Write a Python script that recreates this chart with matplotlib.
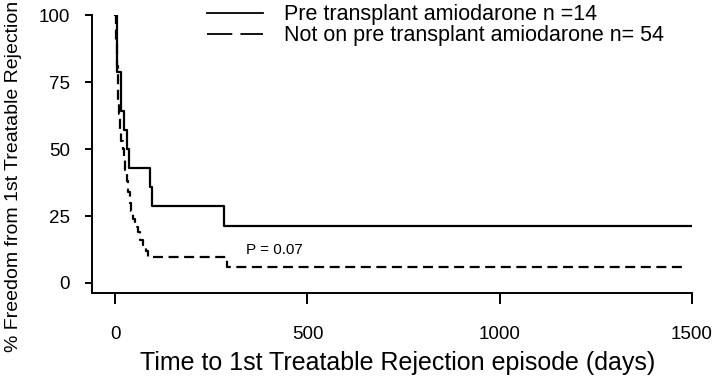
import numpy as np
import matplotlib
matplotlib.use("Agg")
from matplotlib import pyplot as plt
from matplotlib.lines import Line2D

plt.rcParams['font.family'] = ['Liberation Sans', 'DejaVu Sans']

# Kaplan-Meier steps
amio_days = [0, 5, 16, 23, 31, 36, 91, 96, 283, 1500]
amio_surv = [100, 78.6, 64.3, 57.1, 50.0, 42.9, 35.7, 28.6, 21.4, 21.4]

no_amio_days = [0, 2, 4, 6, 8, 10, 13, 16, 19, 22, 26, 30, 34, 38, 42, 47, 52,
                58, 65, 72, 80, 86, 291, 1480]
no_amio_surv = [100, 90, 81, 74, 68, 63, 57, 53, 50, 46, 42, 38, 34, 30, 27, 24,
                21, 19, 16, 14, 12, 9.7, 5.9, 5.9]

labels = ['Pre transplant amiodarone n =14', 'Not on pre transplant amiodarone n= 54']
xticks = [0, 500, 1000, 1500]
yticks = [0, 25, 50, 75, 100]

fig = plt.figure(figsize=(7.2, 3.76), dpi=100)
ax = fig.add_axes([0.128, 0.221, 0.833, 0.739])

ax.step(amio_days, amio_surv, where='post', color='black', lw=1.6)
ax.step(no_amio_days, no_amio_surv, where='post', color='black', lw=1.6,
        linestyle=(0, (4.5, 2.5)))

ax.set_xlim(-60, 1500)
ax.set_ylim(-3.7, 100)
ax.spines['top'].set_visible(False)
ax.spines['right'].set_visible(False)
ax.spines['left'].set_linewidth(1.4)
ax.spines['bottom'].set_linewidth(1.4)
ax.set_xticks(xticks)
ax.set_yticks(yticks)
ax.tick_params(axis='x', direction='out', length=8, width=1.4, labelsize=13.5, pad=16)
ax.tick_params(axis='y', direction='out', length=5, width=1.4, labelsize=13.5, pad=11)

fig.text(398 / 720, 1 - 363 / 376, 'Time to 1st Treatable Rejection episode (days)',
         ha='center', va='center', fontsize=18)
fig.text(14 / 720, 1 - 352 / 376, '% Freedom from 1st Treatable Rejection',
         rotation=90, ha='center', va='bottom', fontsize=14)

ax.text(340, 9.6, 'P = 0.07', fontsize=11, ha='left', va='bottom')

handles = [Line2D([], [], color='black', lw=1.3),
           Line2D([], [], color='black', lw=1.3, linestyle=(0, (14, 4.5)))]
fig.legend(handles, labels, loc='upper left', bbox_to_anchor=(207 / 720, 0.989),
           frameon=False, fontsize=15.5, handlelength=2.6, handletextpad=1.0,
           labelspacing=0.0, borderpad=0, borderaxespad=0)

plt.savefig('out.png', dpi=100)
